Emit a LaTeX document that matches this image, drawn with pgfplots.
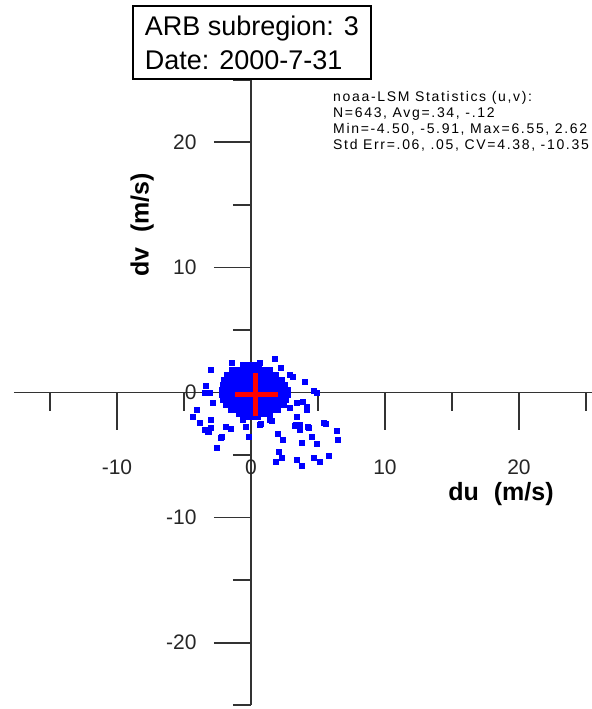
\documentclass[border=0pt]{standalone}
\usepackage{fontspec}
\setmainfont{Liberation Sans}
\usepackage{pgfplots}
\pgfplotsset{compat=1.18}
\usepackage{pgfplotstable}

\pgfplotstableread{
x y
-0.6 2.2
-0.2 2.2
0.2 2.2
0.6 2.2
-1.4 1.8
-1.0 1.8
-0.6 1.8
-0.2 1.8
0.2 1.8
0.6 1.8
1.0 1.8
1.4 1.8
-1.8 1.4
-1.4 1.4
-1.0 1.4
-0.6 1.4
-0.2 1.4
0.2 1.4
0.6 1.4
1.0 1.4
1.4 1.4
1.8 1.4
-2.0 1.0
-1.6 1.0
-1.2 1.0
-0.8 1.0
-0.4 1.0
0.0 1.0
0.4 1.0
0.8 1.0
1.2 1.0
1.6 1.0
2.0 1.0
2.3 1.0
-2.1 0.6
-1.8 0.6
-1.4 0.6
-1.0 0.6
-0.6 0.6
-0.2 0.6
0.2 0.6
0.6 0.6
1.0 0.6
1.4 0.6
1.8 0.6
2.2 0.6
2.5 0.6
-2.2 0.2
-2.0 0.2
-1.6 0.2
-1.2 0.2
-0.8 0.2
-0.4 0.2
0.0 0.2
0.4 0.2
0.8 0.2
1.2 0.2
1.6 0.2
2.0 0.2
2.4 0.2
2.7 0.2
-2.2 -0.2
-2.0 -0.2
-1.6 -0.2
-1.2 -0.2
-0.8 -0.2
-0.4 -0.2
0.0 -0.2
0.4 -0.2
0.8 -0.2
1.2 -0.2
1.6 -0.2
2.0 -0.2
2.4 -0.2
2.7 -0.2
-2.1 -0.6
-1.8 -0.6
-1.4 -0.6
-1.0 -0.6
-0.6 -0.6
-0.2 -0.6
0.2 -0.6
0.6 -0.6
1.0 -0.6
1.4 -0.6
1.8 -0.6
2.2 -0.6
2.6 -0.6
-1.9 -1.0
-1.6 -1.0
-1.2 -1.0
-0.8 -1.0
-0.4 -1.0
0.0 -1.0
0.4 -1.0
0.8 -1.0
1.2 -1.0
1.6 -1.0
2.0 -1.0
2.4 -1.0
-1.5 -1.4
-1.2 -1.4
-0.8 -1.4
-0.4 -1.4
0.0 -1.4
0.4 -1.4
0.8 -1.4
1.2 -1.4
1.6 -1.4
2.0 -1.4
-0.9 -1.7
-0.6 -1.7
-0.2 -1.7
0.2 -1.7
0.6 -1.7
1.0 -1.7
1.4 -1.7
-0.3 -1.9
0.1 -1.9
0.5 -1.9
}\coredata

\pgfplotstableread{
x y
1.79 2.68
-1.42 2.36
-2.99 1.80
0.67 2.36
2.24 1.96
2.90 1.40
3.13 1.24
4.03 0.84
4.70 0.12
-3.36 0.52
-3.43 0.00
-3.06 0.00
-2.84 -0.84
4.93 0.00
3.43 -0.84
3.88 -0.76
4.18 -1.16
4.18 -1.40
2.91 -1.24
-4.03 -1.40
-4.33 -1.96
-3.80 -2.44
-2.99 -2.20
-3.43 -3.00
-3.20 -3.16
-2.99 -2.84
-1.87 -2.76
-1.49 -2.92
-2.24 -3.64
-2.16 -3.56
-2.54 -4.44
-0.60 -2.20
-0.37 -2.76
-0.15 -3.56
0.75 -2.52
0.67 -2.60
1.42 -2.20
1.57 -2.28
2.01 -3.32
2.39 -3.80
2.09 -4.76
2.31 -5.24
1.87 -5.56
3.43 -1.96
3.66 -2.60
3.28 -2.68
3.36 -2.60
3.66 -3.00
4.25 -2.76
4.33 -2.84
4.55 -3.56
3.81 -4.04
4.93 -4.12
5.45 -2.44
5.60 -2.52
6.42 -3.08
6.49 -3.80
3.43 -5.40
3.81 -5.88
4.70 -5.24
5.15 -5.56
5.82 -5.08
}\outerdata

\begin{document}
\begin{tikzpicture}
\begin{axis}[
  at={(0,0)}, anchor=origin,
  x=13.4bp, y=12.51bp,
  xmin=-17.7, xmax=25.45, ymin=-25, ymax=25,
  axis lines=middle,
  axis line style={-, draw=black!80, line width=1.6bp},
  tick align=outside,
  major tick length=37bp, minor tick length=18bp,
  tick style={draw=black!80, line width=1.6bp},
  hide obscured x ticks=false, hide obscured y ticks=false,
  xtick={-10,0,10,20}, xticklabels={-10,0,10,20},
  minor xtick={-15,-5,5,15,25},
  ytick={-20,-10,0,10,20}, yticklabels={-20,-10,0,10,20},
  minor ytick={-25,-15,-5,5,15,25},
  ticklabel style={font=\fontsize{21bp}{24bp}\selectfont, text=black!85},
  xticklabel style={anchor=center, yshift=-38bp, inner sep=1bp},
  yticklabel style={anchor=east, xshift=-14bp},
  clip=false,
  clip marker paths=true,
]
\addplot[only marks, mark=square*, mark size=2.6bp, draw=blue, fill=blue] table[x=x,y=y] {\coredata};
\addplot[only marks, mark=square*, mark size=2.6bp, draw=blue, fill=blue] table[x=x,y=y] {\outerdata};
\addplot[draw=red, no markers, line width=5bp, line cap=butt] coordinates {(-1.19,-0.12) (2.01,-0.12)};
\addplot[draw=red, no markers, line width=5bp, line cap=butt] coordinates {(0.37,1.56) (0.37,-1.88)};
\node[draw=black, line width=1.3bp, fill=white, anchor=south, minimum width=238bp, minimum height=73bp, inner xsep=9bp, align=left, font=\fontsize{27bp}{34bp}\selectfont] at (axis cs:0.07,25) {ARB subregion: 3\\Date: 2000-7-31};
\node[anchor=north west, inner sep=0pt, align=left, font=\fontsize{14bp}{16bp}\selectfont\addfontfeature{LetterSpace=12}] at (axis cs:6.12,24.1) {noaa-LSM Statistics (u,v):\\N=643, Avg=.34, -.12\\Min=-4.50, -5.91, Max=6.55, 2.62\\Std Err=.06, .05, CV=4.38, -10.35};
\node[inner sep=0pt, font=\fontsize{25bp}{28bp}\selectfont\bfseries] at (axis cs:18.66,-8.15) {du\hspace{8bp} (m/s)};
\node[rotate=90, font=\fontsize{25bp}{28bp}\selectfont\bfseries] at (axis cs:-8.13,13.39) {dv\hspace{8bp} (m/s)};
\end{axis}
\pgfresetboundingbox
\useasboundingbox (-251bp,-316.5bp) rectangle (341bp,392.5bp);
\end{tikzpicture}
\end{document}
